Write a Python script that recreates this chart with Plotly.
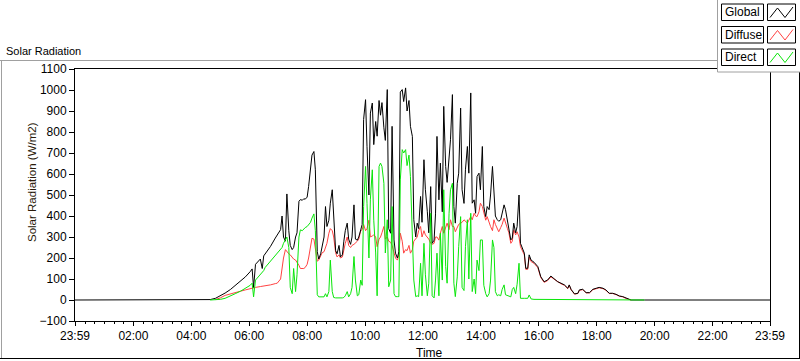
import plotly.graph_objects as go

# ---- data (time in minutes after midnight; -1 = 23:59 of previous day) ----
minutes = [-1, 269, 279, 290, 300, 310, 321, 331, 342, 352, 362, 366, 369, 373, 383, 387, 390, 393,
           404, 414, 418, 425, 428, 431, 435, 438, 442, 445, 449, 452, 456, 459, 463, 466, 470, 473,
           476, 480, 483, 487, 490, 494, 497, 501, 504, 508, 511, 515, 518, 521, 525, 528, 532, 535,
           539, 542, 546, 549, 553, 556, 559, 563, 566, 570, 573, 577, 580, 584, 587, 591, 594, 597,
           601, 604, 608, 611, 615, 618, 622, 625, 629, 632, 635, 639, 642, 646, 649, 653, 656, 660,
           663, 667, 670, 673, 677, 680, 684, 687, 691, 694, 698, 701, 705, 708, 711, 715, 718, 722,
           725, 729, 732, 736, 739, 743, 746, 749, 753, 756, 760, 763, 767, 770, 774, 777, 781, 784,
           787, 791, 794, 798, 801, 805, 808, 812, 815, 819, 822, 826, 829, 832, 836, 839, 843, 846,
           850, 853, 857, 860, 864, 867, 870, 874, 877, 881, 884, 888, 891, 895, 898, 902, 905, 908,
           912, 915, 919, 922, 930, 933, 937, 940, 944, 950, 958, 964, 971, 978, 985, 992, 999, 1006,
           1013, 1020, 1023, 1027, 1034, 1041, 1044, 1051, 1058, 1065, 1072, 1079, 1085, 1093, 1099,
           1106, 1113, 1120, 1127, 1134, 1141, 1151, 1179, 1193, 1439]

global_rad = [0, 0, 2, 8, 20, 33, 50, 68, 88, 110, 135, 148, 60, 170, 195, 150, 210, 220,
              255, 295, 310, 335, 400, 300, 280, 505, 330, 260, 240, 250, 300, 320, 470, 478, 475, 482,
              480, 490, 540, 620, 690, 707, 620, 230, 195, 220, 260, 300, 445, 350, 380, 461, 525, 400,
              235, 220, 260, 205, 215, 280, 330, 366, 290, 265, 300, 453, 290, 285, 300, 334, 360, 860,
              954, 730, 500, 890, 938, 740, 850, 780, 950, 880, 940, 820, 760, 1002, 340, 318, 827, 286,
              223, 200, 230, 990, 1002, 945, 1010, 900, 950, 827, 779, 382, 300, 366, 340, 493, 370, 668,
              525, 420, 320, 540, 270, 285, 410, 779, 477, 652, 420, 922, 636, 560, 700, 763, 978, 445,
              366, 556, 604, 914, 525, 460, 620, 731, 604, 986, 461, 477, 413, 588, 604, 525, 731, 445,
              397, 445, 430, 500, 636, 540, 400, 382, 375, 382, 410, 453, 430, 382, 334, 286, 295, 366,
              320, 350, 500, 270, 223, 151, 151, 215, 190, 180, 159, 111, 87, 95, 114, 102, 87, 80,
              72, 56, 72, 50, 29, 32, 48, 51, 35, 35, 51, 56, 60, 56, 48,
              32, 32, 27, 19, 16, 8, 0, 0, 0, 0]

diffuse_rad = [None, None, None, 2, 10, 22, 30, 36, 42, 48, 55, 57, 58, 60, 64, 65, 66, 67,
               72, 78, 80, 100, 150, 200, 240, 230, 220, 215, 200, 195, 190, 180, 165, 150, 148, 150,
               155, 170, 200, 260, 294, 290, 250, 185, 190, 215, 225, 230, 250, 270, 318, 340, 330, 300,
               225, 205, 215, 200, 205, 240, 270, 300, 260, 250, 260, 265, 270, 280, 290, 330, 335, 360,
               330, 340, 380, 300, 305, 310, 300, 254, 290, 300, 320, 350, 290, 300, 280, 275, 260, 223,
               200, 190, 215, 318, 280, 223, 240, 235, 260, 223, 240, 280, 290, 300, 330, 350, 300, 330,
               310, 300, 290, 270, 265, 270, 300, 300, 285, 318, 350, 318, 350, 366, 335, 382, 350, 350,
               325, 350, 360, 366, 370, 382, 375, 366, 380, 397, 382, 413, 400, 397, 420, 461, 445, 413,
               380, 397, 365, 350, 330, 382, 360, 334, 325, 345, 360, 390, 365, 340, 320, 270, 280, 334,
               310, 325, 300, 254, 215, 146, 146, 205, 183, 175, 154, 107, 84, 92, 110, 99, 84, 77,
               70, 54, 70, 48, 28, 31, 46, 49, 34, 34, 49, 54, 58, 54, 46,
               31, 31, 26, 18, 15, 7, 0, None, None, None]

direct_rad = [None, None, 0, 1, 3, 8, 18, 30, 42, 55, 70, 80, 15, 95, 120, 130, 140, 155,
              185, 215, 225, 240, 250, 270, 290, 300, 250, 60, 30, 150, 40, 120, 300, 334, 330, 340,
              345, 350, 360, 370, 390, 410, 330, 25, 15, 15, 15, 15, 30, 15, 40, 190, 40, 12,
              10, 10, 8, 8, 10, 12, 20, 40, 15, 30, 60, 207, 95, 20, 25, 95, 70, 445,
              636, 460, 200, 480, 620, 380, 224, 20, 636, 652, 636, 556, 224, 382, 63, 95, 445, 30,
              16, 16, 16, 572, 716, 700, 716, 640, 690, 588, 286, 95, 16, 20, 16, 175, 20, 270,
              120, 20, 80, 413, 20, 10, 95, 223, 20, 318, 95, 525, 160, 80, 413, 525, 556, 80,
              16, 110, 254, 397, 60, 45, 254, 382, 100, 413, 40, 100, 30, 190, 140, 286, 286, 70,
              30, 15, 30, 95, 286, 250, 40, 20, 25, 20, 50, 72, 25, 20, 20, 15, 50, 60,
              30, 75, 175, 8, 8, 8, 8, 24, 5, 3, 3, 2, 2, 2, 2, 2, 2, 2,
              2, 2, 2, 2, 1, 1, 1, 1, 1, 1, 1, 1, 1, 1, 1,
              0, 0, 0, 0, 0, 0, 0, 0, None, None]

tick_minutes = [-1, 120, 240, 360, 480, 600, 720, 840, 960, 1080, 1200, 1320, 1439]
tick_labels = ["23:59", "02:00", "04:00", "06:00", "08:00", "10:00", "12:00",
               "14:00", "16:00", "18:00", "20:00", "22:00", "23:59"]
series_names = ["Global", "Diffuse", "Direct"]
series_colors = ["#000000", "#ff4242", "#0ae60a"]

# ---- layout geometry (pixels) ----
W, H = 800, 361
L, R, T, B = 75, 30, 69, 40
PW, PH = W - L - R, H - T - B


def fx(px):
    return (px - L) / PW


def fy(py):
    return (H - B - py) / PH


fig = go.Figure()
# draw order: Diffuse under Global, Direct on top
for name, vals, col in [("Diffuse", diffuse_rad, series_colors[1]),
                        ("Global", global_rad, series_colors[0]),
                        ("Direct", direct_rad, series_colors[2])]:
    fig.add_trace(go.Scatter(x=minutes, y=vals, mode="lines", name=name,
                             line=dict(color=col, width=1), connectgaps=False,
                             hoverinfo="skip"))

font_family = "Liberation Sans, Arial, sans-serif"
shapes = []
annotations = []

# outer frame of the graph control
shapes.append(dict(type="line", xref="paper", yref="paper", x0=fx(0), x1=fx(717), y0=fy(60.5), y1=fy(60.5),
                   line=dict(color="#a0a0a0", width=1)))
shapes.append(dict(type="line", xref="paper", yref="paper", x0=fx(1.5), x1=fx(1.5), y0=fy(60.5), y1=fy(358.5),
                   line=dict(color="#a0a0a0", width=1)))
shapes.append(dict(type="line", xref="paper", yref="paper", x0=fx(0), x1=fx(800), y0=fy(358.5), y1=fy(358.5),
                   line=dict(color="#000000", width=1)))
shapes.append(dict(type="line", xref="paper", yref="paper", x0=fx(799.5), x1=fx(799.5), y0=fy(72), y1=fy(359),
                   line=dict(color="#000000", width=1)))
# legend panel
shapes.append(dict(type="rect", xref="paper", yref="paper", x0=fx(717.5), x1=fx(801), y0=fy(-1), y1=fy(72),
                   line=dict(color="#a0a0a0", width=1), fillcolor="white"))

row_tops = [4, 26.5, 49]
for i, (name, col) in enumerate(zip(series_names, series_colors)):
    y0 = row_tops[i]
    y1 = y0 + 16.5
    shapes.append(dict(type="rect", xref="paper", yref="paper", x0=fx(721.5), x1=fx(763.5),
                       y0=fy(y0), y1=fy(y1), line=dict(color="#000000", width=1), fillcolor="white"))
    shapes.append(dict(type="rect", xref="paper", yref="paper", x0=fx(767.5), x1=fx(795.5),
                       y0=fy(y0), y1=fy(y1), line=dict(color="#000000", width=1), fillcolor="white"))
    path = "M {} {} L {} {} L {} {} L {} {}".format(
        fx(770), fy(y1 - 3), fx(777.5), fy(y0 + 4), fx(785), fy(y1 - 3), fx(793), fy(y0 + 3))
    shapes.append(dict(type="path", xref="paper", yref="paper", path=path,
                       line=dict(color=col, width=1)))
    annotations.append(dict(text=name, xref="paper", yref="paper", x=fx(723), y=fy((y0 + y1) / 2),
                            xanchor="left", yanchor="middle", showarrow=False,
                            font=dict(size=12, color="black", family=font_family)))

# control caption and axis names
annotations.append(dict(text="Solar Radiation", xref="paper", yref="paper", x=fx(4), y=fy(51),
                        xanchor="left", yanchor="middle", showarrow=False,
                        font=dict(size=11, color="black", family=font_family)))
annotations.append(dict(text="Solar Radiation (W/m2)", xref="paper", yref="paper", x=fx(32), y=fy(182),
                        xanchor="center", yanchor="middle", textangle=-90, showarrow=False,
                        font=dict(size=11.5, color="#2a1a0a", family=font_family)))
annotations.append(dict(text="Time", xref="paper", yref="paper", x=fx(429.5), y=fy(353),
                        xanchor="center", yanchor="middle", showarrow=False,
                        font=dict(size=12, color="black", family=font_family)))

fig.update_layout(
    width=W, height=H,
    margin=dict(l=L, r=R, t=T, b=B, pad=0),
    paper_bgcolor="white", plot_bgcolor="white",
    showlegend=False,
    font=dict(family=font_family, size=12, color="black"),
    shapes=shapes, annotations=annotations,
    xaxis=dict(range=[-1, 1439], tickmode="array", tickvals=tick_minutes, ticktext=tick_labels,
               ticks="outside", ticklen=4, tickcolor="black", tickwidth=1,
               showline=True, linecolor="black", linewidth=1, mirror=True,
               showgrid=False, zeroline=False,
               minor=dict(ticks="outside", ticklen=2, tickcolor="black",
                          tickvals=[m for m in range(20, 1440, 20) if m % 120 != 0])),
    yaxis=dict(range=[-100, 1100], tickmode="linear", tick0=0, dtick=100,
               ticks="outside", ticklen=5, tickcolor="black", tickwidth=1,
               showline=True, linecolor="black", linewidth=1, mirror=True,
               showgrid=False, zeroline=False),
)

fig.write_html("out.html", config={"displayModeBar": False},
               post_script="document.body.style.margin='0';document.body.style.padding='0';")
